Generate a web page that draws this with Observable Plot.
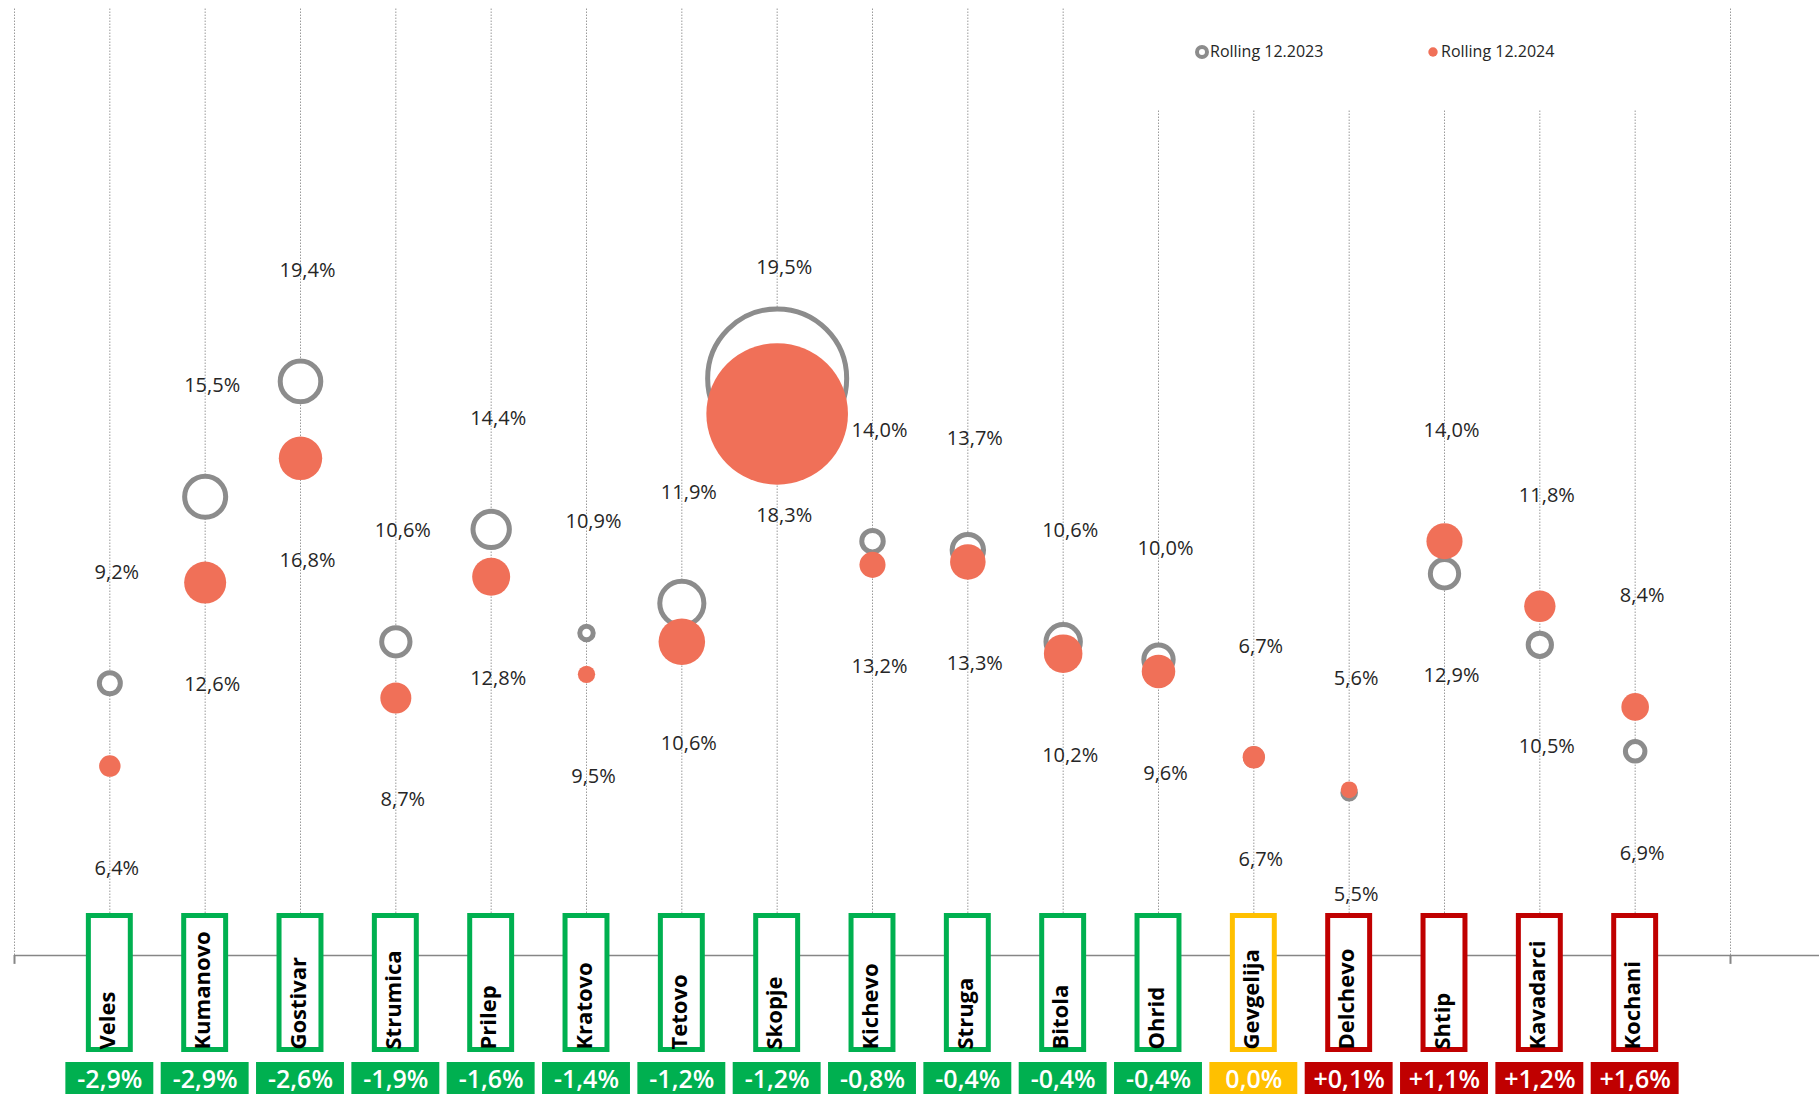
<!DOCTYPE html>
<html>
<head>
<meta charset="utf-8">
<script src="https://cdn.jsdelivr.net/npm/d3@7"></script>
<script src="https://cdn.jsdelivr.net/npm/@observablehq/plot@0.6"></script>
<style>
  html, body { margin: 0; padding: 0; background: #fff; }
  body { font-family: "Open Sans", "Noto Sans", sans-serif; }
  #wrap { position: relative; width: 1819px; height: 1094px; overflow: hidden; }
  #legend { position: absolute; left: 1100px; top: 0; width: 590px; height: 110px; background: #fff; }
  #legend svg { position: absolute; }
  #legend span { position: absolute; font-size: 16px; line-height: 20px; color: #262626; white-space: nowrap; }
</style>
</head>
<body>
<div id="wrap">
  <div id="chart"></div>
  <div id="legend">
    <svg width="18" height="18" style="left:93px;top:43px"><circle cx="9" cy="9" r="5" fill="#fff" stroke="#8c8c8c" stroke-width="4"></circle></svg>
    <span style="left:110px;top:41px">Rolling 12.2023</span>
    <svg width="12" height="12" style="left:327px;top:46px"><circle cx="6" cy="6" r="4.7" fill="#F07058"></circle></svg>
    <span style="left:341px;top:41px">Rolling 12.2024</span>
  </div>
</div>
<script>
// ---- data ----
const cities = ["Veles","Kumanovo","Gostivar","Strumica","Prilep","Kratovo","Tetovo","Skopje","Kichevo","Struga","Bitola","Ohrid","Gevgelija","Delchevo","Shtip","Kavadarci","Kochani"];
const rate2023 = [9.2, 15.5, 19.4, 10.6, 14.4, 10.9, 11.9, 19.5, 14.0, 13.7, 10.6, 10.0, 6.7, 5.5, 12.9, 10.5, 6.9];
const rate2024 = [6.4, 12.6, 16.8, 8.7, 12.8, 9.5, 10.6, 18.3, 13.2, 13.3, 10.2, 9.6, 6.7, 5.6, 14.0, 11.8, 8.4];
const change   = [-2.9, -2.9, -2.6, -1.9, -1.6, -1.4, -1.2, -1.2, -0.8, -0.4, -0.4, -0.4, 0.0, 0.1, 1.1, 1.2, 1.6];
// bubble weight (relative volume, Skopje 2024 = 100)
const weight2023 = [2.2, 8.4, 8.2, 4.0, 6.6, 0.9, 9.7, 96.4, 2.3, 4.9, 5.9, 4.3, 1.4, 0.8, 4.0, 2.7, 1.9];
const weight2024 = [2.3, 8.8, 9.4, 4.8, 7.2, 1.5, 10.8, 100, 3.4, 6.3, 7.4, 5.6, 2.5, 1.4, 6.5, 4.9, 3.8];

const GREEN = "#00B050", YELLOW = "#FFC000", RED = "#C00000";
const GRAY = "#8c8c8c", ORANGE = "#F07058";

const rows = cities.map((city, i) => ({
  city, i,
  v23: rate2023[i], v24: rate2024[i],
  w23: weight2023[i], w24: weight2024[i],
  ch: change[i],
  hi: Math.max(rate2023[i], rate2024[i]),
  lo: Math.min(rate2023[i], rate2024[i])
}));

const pct = v => v.toFixed(1).replace(".", ",") + "%";
const chFmt = v => (v > 0 ? "+" : "") + v.toFixed(1).replace(".", ",") + "%";
const chColor = d => d.ch < 0 ? GREEN : d.ch > 0 ? RED : YELLOW;

const xDomain = [-1, cities.length];
const gridIdx = d3.range(xDomain[0], xDomain[1] + 1);

const chart = Plot.plot({
  width: 1819,
  height: 1094,
  marginTop: 8,
  marginBottom: 0,
  marginLeft: 14,
  marginRight: 89,
  style: { fontFamily: "'Open Sans', 'Noto Sans', sans-serif", background: "#fff" },
  x: { domain: xDomain, axis: null },
  y: { domain: [0, 32], range: [955, 8], axis: null },
  r: { type: "sqrt", domain: [0, 100], range: [0, 70.8] },
  marks: [
    Plot.ruleX(gridIdx, { y1: 0, y2: 32, stroke: "#9a9a9a", strokeWidth: 1, strokeDasharray: "1.5,1.5" }),
    Plot.ruleY([0], { x1: xDomain[0], x2: xDomain[1] + 1, stroke: "#868686", strokeWidth: 1.5 }),
    Plot.ruleX(xDomain, { y1: 0, y2: -0.3, stroke: "#868686", strokeWidth: 2 }),
    Plot.dot(rows, { x: "i", y: "v23", r: "w23", fill: "#fff", stroke: GRAY, strokeWidth: 5 }),
    Plot.dot(rows, { x: "i", y: "v24", r: "w24", fill: ORANGE, stroke: "none" }),
    Plot.text(rows, { x: "i", y: "hi", text: d => pct(d.hi), dy: -111, dx: 7, fontSize: 20, fill: "#262626" }),
    Plot.text(rows, { x: "i", y: "lo", text: d => pct(d.lo), dy: 102, dx: 7, fontSize: 20, fill: "#262626" }),
    // category label boxes
    Plot.rect(rows, { x1: d => d.i - 0.5, x2: d => d.i + 0.5, fill: "#fff", stroke: chColor, strokeWidth: 5,
      insetLeft: 26.7, insetRight: 26.7, insetTop: 907.5, insetBottom: 44.5 }),
    Plot.text(rows, { x: "i", text: "city", frameAnchor: "bottom", rotate: -90, textAnchor: "start",
      dy: -45, dx: 5, fontSize: 22, fontWeight: "bold", fill: "#000" }),
    // change boxes
    Plot.rect(rows, { x1: d => d.i - 0.5, x2: d => d.i + 0.5, fill: chColor,
      insetLeft: 3.7, insetRight: 3.7, insetTop: 1054, insetBottom: 0 }),
    Plot.text(rows, { x: "i", text: d => chFmt(d.ch), frameAnchor: "bottom", dy: -7,
      fontSize: 25, fontWeight: 600, fill: "#fff" })
  ]
});
document.getElementById("chart").appendChild(chart);
</script>
</body>
</html>
